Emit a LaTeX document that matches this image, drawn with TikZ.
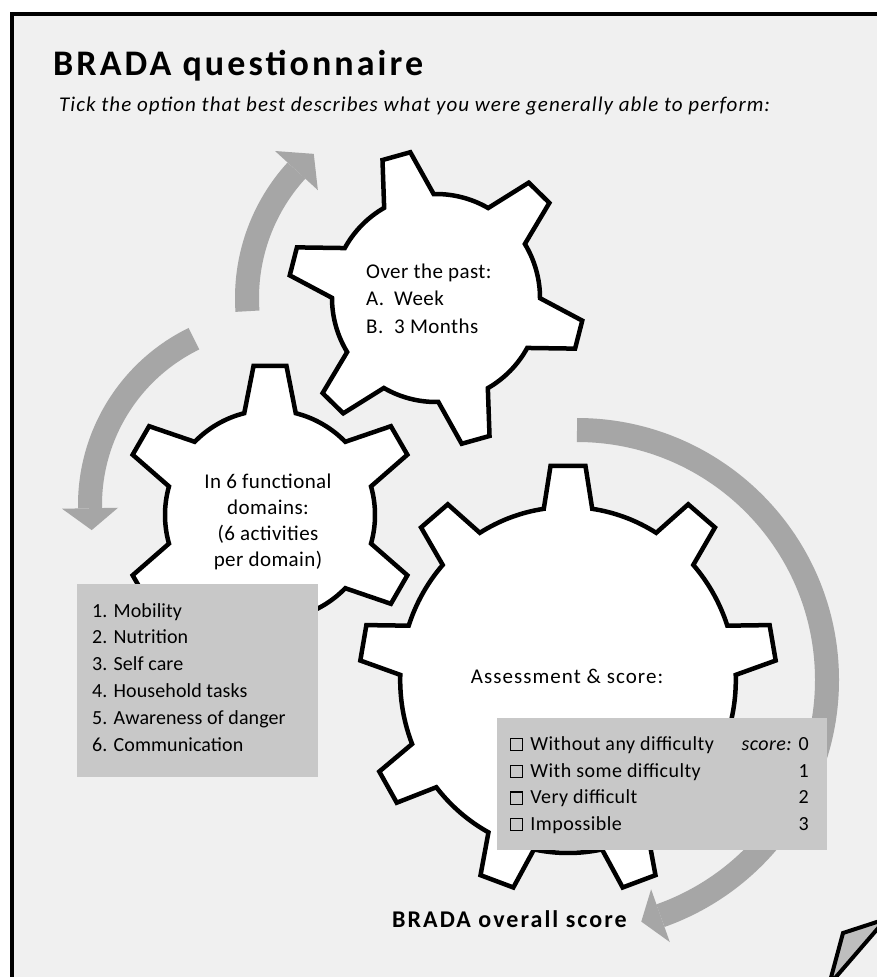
\documentclass[tikz,border=0pt]{standalone}
\usepackage{fontspec}
\setmainfont{Carlito}
\definecolor{bg}{HTML}{F0F0F0}
\definecolor{arrowgray}{HTML}{A6A6A6}
\definecolor{boxgray}{HTML}{C8C8C8}
\definecolor{curlgray}{HTML}{BEBEBE}
\newcommand\chkbox{{\setlength\fboxsep{0pt}\setlength\fboxrule{1.1pt}\fbox{\rule{0pt}{11pt}\rule{11pt}{0pt}}}}
\tikzset{
  gearline/.style={line width=4.5pt, fill=white, draw=black, line join=miter},
  arrowbody/.style={line width=24pt, draw=arrowgray},
  txt/.style={inner sep=0pt, anchor=base west},
  ctxt/.style={inner sep=0pt, anchor=base},
  etxt/.style={inner sep=0pt, anchor=base east},
  gearfont/.style={font=\fontsize{21}{26}\selectfont\addfontfeatures{LetterSpace=2}},
  lboxfont/.style={font=\fontsize{20}{26}\selectfont\addfontfeatures{LetterSpace=0.5}},
  rboxfont/.style={font=\fontsize{20}{26}\selectfont\addfontfeatures{LetterSpace=2.3}},
  pics/gear/.style n args={6}{code={
    \draw[gearline] ({#2-#5}:#3)
      \foreach \k in {1,...,#1}{
        -- ({#2+(\k-1)*360/#1-#6}:#4)
        -- ({#2+(\k-1)*360/#1+#6}:#4)
        -- ({#2+(\k-1)*360/#1+#5}:#3)
        arc[start angle={#2+(\k-1)*360/#1+#5}, end angle={#2+\k*360/#1-#5}, radius=#3]
      } -- cycle;
  }}
}
\begin{document}
\begin{tikzpicture}[x=1pt,y=-1pt]
\useasboundingbox (0,0) rectangle (877,977);
\clip (0,0) rectangle (877,977);
\fill[white] (0,0) rectangle (877,977);
\fill[bg] (12,14) rectangle (900,1000);
\draw[line width=4.5pt] (900,14) -- (12,14) -- (12,1000);

% title
\node[txt, font=\fontsize{36}{40}\selectfont\bfseries\addfontfeatures{LetterSpace=8.5}] (title) at (53,75) {BRADA questionnaire};
\node[txt, font=\fontsize{21}{26}\selectfont\itshape\addfontfeatures{LetterSpace=4.9}] (subtitle) at (59,111) {Tick the option that best describes what you were generally able to perform:};

% arrows
\coordinate (cA) at (436,298);
\coordinate (cB) at (275,505);
\coordinate (cC) at (577,680);
\begin{scope}[shift={(cA)}]
  \draw[arrowbody] (-184:189) arc[start angle=-184, end angle=-137.6, radius=189];
  \fill[arrowgray] (-137.6:160) -- (-137.6:218) -- (-130.3:189) -- cycle;
\end{scope}
\begin{scope}[shift={(cB)}]
  \draw[arrowbody] (-116:185) arc[start angle=-116, end angle=-181, radius=185];
  \fill[arrowgray] (-181:157) -- (-181:213) -- (-187.8:185) -- cycle;
\end{scope}
\begin{scope}[shift={(cC)}]
  \draw[arrowbody] (-90:250) arc[start angle=-90, end angle=70.5, radius=250];
  \fill[arrowgray] (70.5:222) -- (70.5:278) -- (75.1:250) -- cycle;
\end{scope}

% gears
\pic (gear1) at (436,298) {gear={6}{14.4}{104}{148}{14.3}{5.6}};
\pic (gear2) at (270,515) {gear={6}{30}{105}{150}{14.2}{6.3}};
\pic[xscale=0.97] (gear3) at (568,680) {gear={9}{30}{173}{215}{8.3}{4.8}};

% gear 1 text
\node[txt, gearfont] (g1a) at (366,278) {Over the past:};
\node[txt, gearfont] (g1b) at (366,305) {\makebox[28pt][l]{A.}Week};
\node[txt, gearfont] (g1c) at (366,333) {\makebox[28pt][l]{B.}3 Months};

% gear 2 text
\node[ctxt, gearfont] (g2a) at (268,488) {In 6 functional};
\node[ctxt, gearfont] (g2b) at (268,514) {domains:};
\node[ctxt, gearfont] (g2c) at (268,540) {(6 activities};
\node[ctxt, gearfont] (g2d) at (268,566) {per domain)};

% gear 3 text
\node[ctxt, font=\fontsize{21}{26}\selectfont\addfontfeatures{LetterSpace=5}] (g3a) at (567,683) {Assessment \& score:};

% left box
\fill[boxgray] (77,584) rectangle (318,777);
\node[txt, lboxfont] (l1) at (92,617) {1. Mobility};
\node[txt, lboxfont] (l2) at (92,643.5) {2. Nutrition};
\node[txt, lboxfont] (l3) at (92,670.3) {3. Self care};
\node[txt, lboxfont] (l4) at (92,697) {4. Household tasks};
\node[txt, lboxfont] (l5) at (92,724) {5. Awareness of danger};
\node[txt, lboxfont] (l6) at (92,751) {6. Communication};

% right box
\fill[boxgray] (497,718) rectangle (827,850);
\node[txt, rboxfont] (r1) at (510,750) {\chkbox\hspace{7pt}Without any difficulty};
\node[txt, rboxfont] (r2) at (510,777) {\chkbox\hspace{7pt}With some difficulty};
\node[txt, rboxfont] (r3) at (510,803.5) {\chkbox\hspace{7pt}Very difficult};
\node[txt, rboxfont] (r4) at (510,830) {\chkbox\hspace{7pt}Impossible};
\node[etxt, font=\fontsize{20}{26}\selectfont\itshape\addfontfeatures{LetterSpace=2.3}] (sc) at (792,750) {score:};
\node[etxt, rboxfont] (n0) at (809,750) {0};
\node[etxt, rboxfont] (n1) at (809,777) {1};
\node[etxt, rboxfont] (n2) at (809,803.5) {2};
\node[etxt, rboxfont] (n3) at (809,830) {3};

% overall score
\node[txt, font=\fontsize{24}{30}\selectfont\bfseries\addfontfeatures{LetterSpace=8.5}] (overall) at (392,927) {BRADA overall score};

% page curl
\filldraw[fill=curlgray, line width=4pt, line join=miter] (843,933) -- (886,919) -- (829,985) -- cycle;
\end{tikzpicture}
\end{document}
